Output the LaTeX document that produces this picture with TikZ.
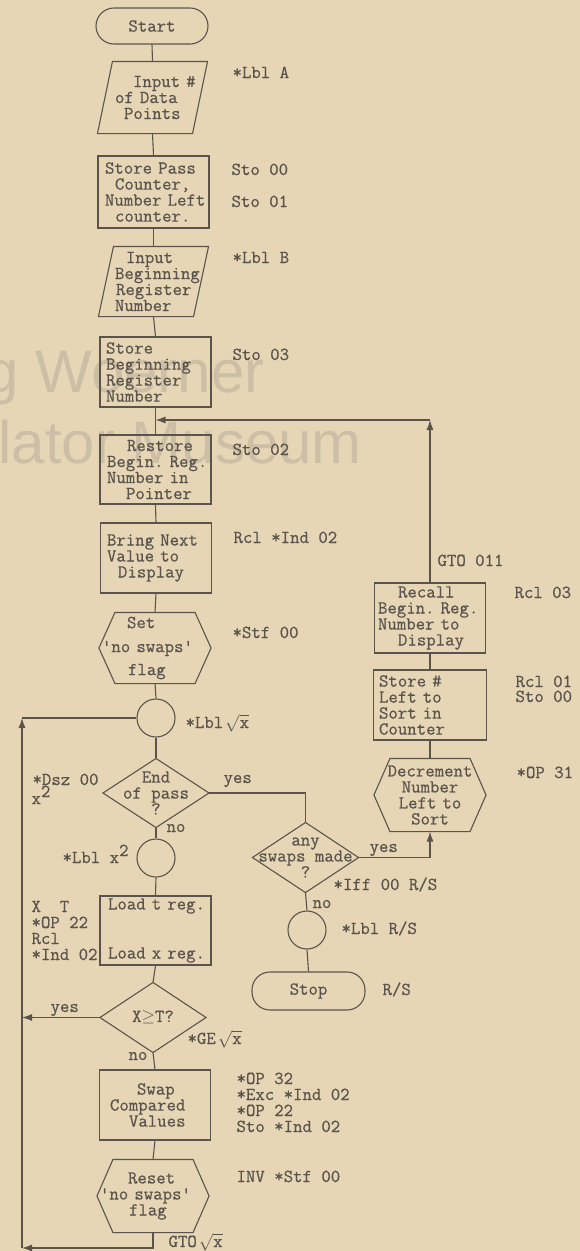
\documentclass[tikz,border=0pt]{standalone}
\usepackage{fontspec}
\usepackage{tikz}
\usetikzlibrary{arrows.meta}
\newfontfamily\typew{Latin Modern Mono}[WordSpace={1,0,0},FakeBold=0.6]
\newfontfamily\wmfont{Liberation Sans}
\definecolor{paper}{HTML}{E7D6B6}
\definecolor{ink}{HTML}{5A544C}
\definecolor{wmk}{HTML}{CDBFA6}
\newcommand{\ind}[1]{\hspace*{#1pt}}
\newcommand{\rtx}{\ensuremath{\sqrt{\hbox{x}}}}
\newcommand{\sqd}{\raisebox{7pt}{2}}
\frenchspacing

\begin{document}
\begin{tikzpicture}[x=1pt,y=-1pt,font=\typew\fontsize{18.3}{16}\selectfont,
  >={Latex[length=10pt,width=7pt]},line width=1.1pt,color=ink]
\tikzstyle{proc}=[draw,rectangle,minimum width=111pt,minimum height=70pt,
  text width=110pt,inner xsep=0.5pt,inner ysep=0pt,align=left]
\tikzstyle{io}=[rectangle,minimum width=109pt,minimum height=70pt,
  text width=108pt,inner xsep=0.5pt,inner ysep=0pt,align=left]
\tikzstyle{prep}=[rectangle,minimum width=111pt,minimum height=70pt,
  text width=110pt,inner xsep=0.5pt,inner ysep=0pt,align=left]
\tikzstyle{decide}=[rectangle,minimum width=105pt,minimum height=68pt,
  inner sep=0pt,align=center]
\tikzstyle{term}=[draw,rectangle,rounded corners=18pt,minimum width=112pt,
  minimum height=36pt,inner sep=0pt]
\tikzstyle{conn}=[draw,circle,minimum size=38pt,inner sep=0pt]
\tikzstyle{note}=[anchor=base west,inner sep=0pt]
\tikzstyle{wmark}=[anchor=base west,inner sep=0pt,text=wmk,
  font=\wmfont\fontsize{60}{60}\selectfont]

\useasboundingbox (0,0) rectangle (580,1251);
\fill[paper] (0,0) rectangle (580,1251);
\begin{scope}
\clip (0,0) rectangle (580,1251);
\node[wmark] (wm1) at (-15,392) {g Woerner};
\node[wmark] (wm2) at (-2,463) {lator Museum};
\end{scope}

% main column
\node[term] (start) at (152,26) {Start};
\node[io,minimum height=71pt] (in1) at (152.5,97.5)
  {\ind{34.5}Input~\#\\\ind{16.5}of~Data\\\ind{25.5}Points};
\node[proc,minimum height=72pt] (stpass) at (153.5,192)
  {\ind{6.5}Store~Pass\\\ind{16.5}Counter,\\\ind{6.5}Number~Left\\\ind{16.5}counter.};
\node[io,minimum height=69pt] (in2) at (153.5,281.5)
  {\ind{26.5}Input\\\ind{15.5}Beginning\\\ind{16.5}Register\\\ind{15.5}Number};
\node[proc] (stbeg) at (155.5,372)
  {\ind{5.5}Store\\\ind{5.5}Beginning\\\ind{5.5}Register\\\ind{5.5}Number};
\node[proc,minimum height=69pt] (restore) at (155.5,469.5)
  {\ind{26.5}Restore\\\ind{6.5}Begin.~Reg.\\\ind{6.5}Number~in\\\ind{25.5}Pointer};
\node[proc] (bring) at (156,558)
  {\ind{6}Bring~Next\\\ind{6}Value~to\\\ind{17}Display};
\node[prep] (setf) at (155,648)
  {\ind{27}Set\\[8pt]\ind{2}\textquotesingle no~swaps\textquotesingle\\[7pt]\ind{28}flag};
\node[conn] (lblx) at (156,718) {};
\node[decide] (endp) at (156,793) {End\\of pass\\?};
\node[conn] (lblx2) at (156,858) {};
\node[proc,minimum height=69pt] (load) at (155.5,930.5)
  {\ind{7.5}Load~t~reg.\\[33pt]\ind{7.5}Load~x~reg.};
\node[decide,minimum height=69pt] (xgt) at (153,1017.5) {X$\geq$T?};
\node[proc] (swap) at (155,1105)
  {\ind{37}Swap\\\ind{10}Compared\\\ind{29}Values};
\node[prep,minimum height=72pt] (resetf) at (153,1196)
  {\ind{30}Reset\\\ind{2}\textquotesingle no~swaps\textquotesingle\\\ind{31}flag};

% right column
\node[proc] (recall) at (430,618)
  {\ind{23}Recall\\\ind{3}Begin.~Reg.\\\ind{3}Number~to\\\ind{23}Display};
\node[proc,minimum width=113pt,text width=112pt] (stnum) at (430,705)
  {\ind{5}Store~\#\\\ind{5}Left~to\\\ind{5}Sort~in\\\ind{5}Counter};
\node[prep,align=center,minimum height=72pt,text width=108pt] (decr) at (430,795)
  {Decrement\\Number\\Left to\\Sort};
\node[decide,minimum height=69pt] (anys) at (305.5,857.5) {any\\swaps made\\?};
\node[conn] (lblrs) at (307,930) {};
\node[term,minimum width=113pt,minimum height=38pt] (stop) at (308.5,991) {Stop};

% outlines
\foreach \n in {in1,in2}
  \draw (\n.south west) -- ([xshift=15pt]\n.north west) -- (\n.north east)
    -- ([xshift=-15pt]\n.south east) -- cycle;
\foreach \n in {setf,resetf,decr}
  \draw (\n.west) -- ([xshift=16pt]\n.north west) -- ([xshift=-16pt]\n.north east)
    -- (\n.east) -- ([xshift=-16pt]\n.south east) -- ([xshift=16pt]\n.south west) -- cycle;
\foreach \n in {endp,anys,xgt}
  \draw (\n.north) -- (\n.east) -- (\n.south) -- (\n.west) -- cycle;

% flow lines
\draw (start.south) -- (in1.north);
\draw (in1.south) -- (stpass.north);
\draw (stpass.south) -- (in2.north);
\draw (in2.south) -- (stbeg.north);
\draw (stbeg.south) -- (restore.north);
\draw (restore.south) -- (bring.north);
\draw (bring.south) -- (setf.north);
\draw (setf.south) -- (lblx.north);
\draw (lblx.south) -- (endp.north);
\draw (endp.south) -- (lblx2.north);
\draw (lblx2.south) -- (load.north);
\draw (load.south) -- (xgt.north);
\draw (xgt.south) -- (swap.north);
\draw (swap.south) -- (resetf.north);

\draw (endp.east) -| (anys.north);
\draw[->] (anys.east) -| (decr.south);
\draw (anys.south) -- (lblrs.north);
\draw (lblrs.south) -- (stop.north);
\draw (decr.north) -- (stnum.south);
\draw (stnum.north) -- (recall.south);

\coordinate (rtop) at (430,420);
\coordinate (join) at (stbeg.south |- rtop);
\draw[->] (recall.north) -- (rtop);
\draw[->] (rtop) -- (join);

\coordinate (lbot) at (22,1248);
\coordinate (ltop) at (lbot |- lblx.west);
\draw[->] (resetf.south) |- (lbot);
\draw[->] (lbot) -- (ltop);
\draw (ltop) -- (lblx.west);
\draw[->] (xgt.west) -- (xgt.west -| lbot);

% yes / no
\node[note] (yes1) at (223,783) {yes};
\node[note] (no1) at (166,832) {no};
\node[note] (yes2) at (369,852) {yes};
\node[note] (no2) at (312,908) {no};
\node[note] (yes3) at (50,1012) {yes};
\node[note] (no3) at (128,1060) {no};

% key codes
\node[note] (aA) at (232,78) {*Lbl A};
\node[note] (aS0) at (231,175) {Sto 00};
\node[note] (aS1) at (231,207) {Sto 01};
\node[note] (aB) at (232,263) {*Lbl B};
\node[note] (aS3) at (232,360) {Sto 03};
\node[note] (aS2) at (232,455) {Sto 02};
\node[note] (aRi) at (233,543) {Rcl *Ind 02};
\node[note] (aSf) at (232,638) {*Stf 00};
\node[note] (aLx) at (185,728) {*Lbl\hspace{2pt}\rtx};
\node[note] (aDsz) at (32,785) {*Dsz 00};
\node[note] (aX2) at (31,804) {x\sqd};
\node[note] (aLx2) at (62,863) {*Lbl x\sqd};
\foreach \t [count=\i] in {X\ \ T,*OP 22,Rcl,*Ind 02}
  \node[note] (aL\i) at (31,896+16*\i) {\t};
\node[note] (aGE) at (187,1044) {*GE\hspace{2pt}\rtx};
\foreach \t [count=\i] in {*OP 32,*Exc *Ind 02,*OP 22,Sto *Ind 02}
  \node[note] (aSw\i) at (236,1068+16*\i) {\t};
\node[note] (aInv) at (236,1182) {INV *Stf 00};
\node[note] (aGto) at (168,1247) {GTO\hspace{2pt}\rtx};

\node[note] (aG011) at (437,566) {GTO 011};
\node[note] (aR3) at (514,598) {Rcl 03};
\node[note] (aR1) at (515,687) {Rcl 01};
\node[note] (aS00) at (515,702) {Sto 00};
\node[note] (aOp31) at (516,778) {*OP 31};
\node[note] (aIff) at (333,890) {*Iff 00 R/S};
\node[note] (aLrs) at (341,934) {*Lbl R/S};
\node[note] (aRS) at (382,995) {R/S};
\end{tikzpicture}
\end{document}
